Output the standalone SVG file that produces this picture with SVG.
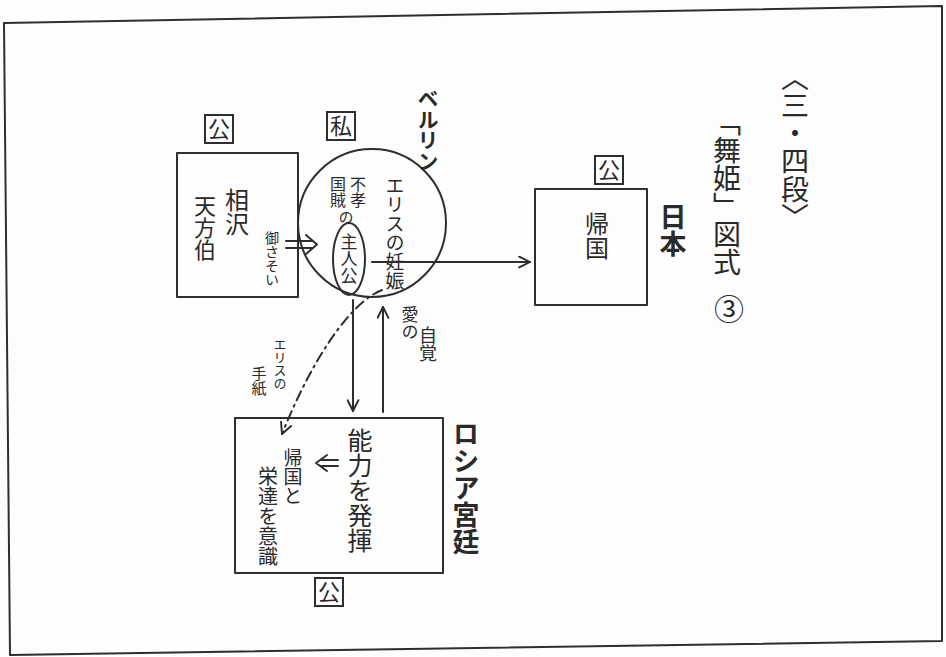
<svg xmlns="http://www.w3.org/2000/svg" width="946" height="657" viewBox="0 0 946 657">
<defs>
<style>
.ln{fill:none;stroke:#2e2e2e;stroke-width:2;stroke-linecap:round;stroke-linejoin:round}
.t{font-family:"Noto Sans CJK JP","Noto Sans CJK SC",sans-serif;fill:#2a2a2a}
.v{writing-mode:vertical-rl;font-family:"Noto Sans CJK JP","Noto Sans CJK SC",sans-serif;fill:#2a2a2a}
.b{font-weight:bold}
.tag{fill:#fff;stroke:#2e2e2e;stroke-width:2}
</style>
<marker id="open" viewBox="0 0 12 12" refX="11" refY="6" markerWidth="13" markerHeight="13" markerUnits="userSpaceOnUse" orient="auto">
<path d="M1,1 L11,6 L1,11" fill="none" stroke="#2e2e2e" stroke-width="1.8" stroke-linecap="round" stroke-linejoin="round"/>
</marker>
</defs>
<rect width="946" height="657" fill="#fdfdfd"/>
<g id="frame">
<path class="ln" d="M4,23 L942,6 L942,641 L10,655 Z" stroke="#555" stroke-width="2.2"/>
</g>

<g id="node-aizawa">
<rect class="ln" x="177" y="153" width="121" height="144"/>
<rect class="tag" x="205" y="115" width="28" height="28"/>
<text class="t" x="219" y="137" font-size="22" text-anchor="middle">公</text>
<text class="v" x="237" y="188" font-size="24">相沢</text>
<text class="v" x="205" y="195" font-size="22">天方伯</text>
</g>

<g id="node-private">
<circle class="ln" cx="372" cy="223" r="74"/>
<rect class="tag" x="327" y="112" width="28" height="28"/>
<text class="t" x="341" y="134" font-size="22" text-anchor="middle">私</text>
<text class="v" x="358" y="176" font-size="16">不孝</text>
<text class="v" x="338" y="176" font-size="16">国賊</text>
<text class="v" x="346" y="210" font-size="15">の</text>
<ellipse class="ln" cx="349" cy="259" rx="16" ry="36"/>
<text class="v" x="349" y="233" font-size="17">主人公</text>
<text class="v" x="395" y="176" font-size="19">エリスの妊娠</text>
<text class="v b" x="428" y="88" font-size="21">ベルリン</text>
</g>

<g id="node-return">
<rect class="ln" x="535" y="189" width="112" height="116"/>
<rect class="tag" x="595" y="156" width="28" height="28"/>
<text class="t" x="609" y="178" font-size="22" text-anchor="middle">公</text>
<text class="v" x="597" y="212" font-size="24">帰国</text>
<text class="v b" x="673" y="203" font-size="27">日本</text>
</g>

<g id="node-russia">
<rect class="ln" x="235" y="418" width="208" height="155"/>
<rect class="tag" x="315" y="578" width="28" height="28"/>
<text class="t" x="329" y="600" font-size="22" text-anchor="middle">公</text>
<text class="v" x="360" y="428" font-size="25">能力を発揮</text>
<text class="v" x="293" y="448" font-size="19">帰国と</text>
<text class="v" x="268" y="466" font-size="20">栄達を意識</text>
<path class="ln" d="M338,460 L320,460 M338,466 L320,466 M327,455 L316,463 L327,471"/>
<text class="v b" x="466" y="420" font-size="27">ロシア宮廷</text>
</g>

<g id="title">
<text class="v" x="795" y="63" font-size="28">〈三・四段〉</text>
<text class="v" x="727" y="108" font-size="28">「舞姫」図式</text>
<text class="t" x="729" y="320" font-size="30" text-anchor="middle">③</text>
</g>

<g id="connectors">
<path class="ln" d="M286,241 L312,241 M286,248 L312,248 M306,235 L317,244.5 L306,254"/>
<text class="v" x="272" y="231" font-size="14">御さそい</text>
<line class="ln" x1="372" y1="262" x2="530" y2="262" marker-end="url(#open)"/>
<line class="ln" x1="353" y1="300" x2="353" y2="411" marker-end="url(#open)"/>
<line class="ln" x1="383" y1="412" x2="383" y2="307" marker-end="url(#open)"/>
<text class="v" x="410" y="306" font-size="17">愛の</text>
<text class="v" x="428" y="326" font-size="18">自覚</text>
<path class="ln" d="M382,290 C356,300 318,345 282,434" stroke-dasharray="10 5 2 5" marker-end="url(#open)"/>
<text class="v" x="280" y="338" font-size="13">エリスの</text>
<text class="v" x="259" y="366" font-size="15">手紙</text>
</g>
</svg>
